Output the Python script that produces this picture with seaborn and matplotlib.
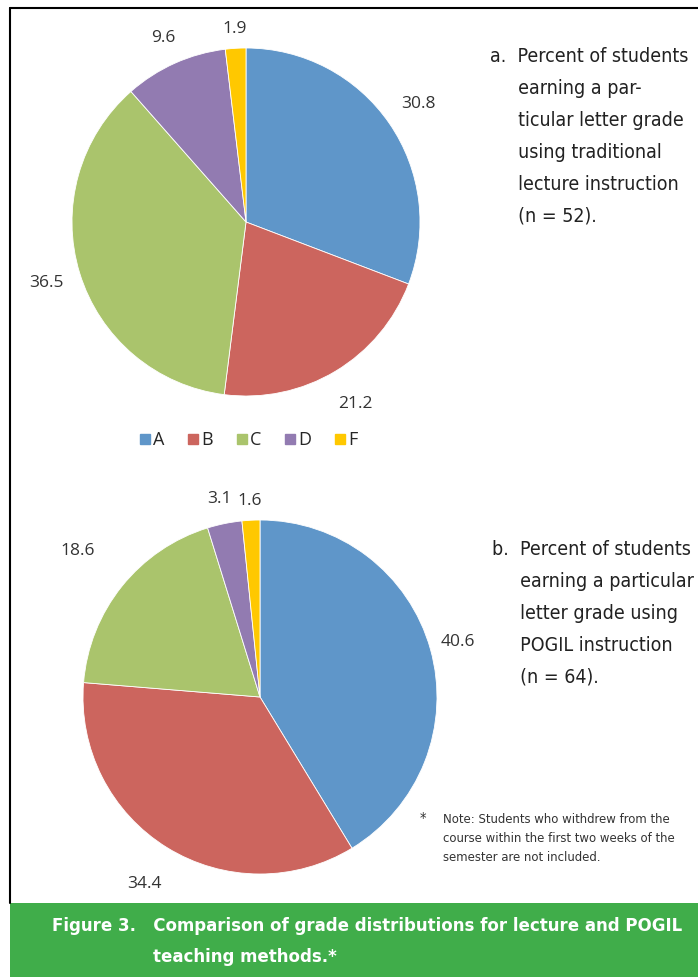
import numpy as np
import pandas as pd
import matplotlib
matplotlib.use("Agg")
import matplotlib.pyplot as plt
import seaborn as sns
from matplotlib.patches import Rectangle
from matplotlib.lines import Line2D

# Dados
grades = ["A", "B", "C", "D", "F"]
lecture_pct = [30.8, 21.2, 36.5, 9.6, 1.9]
pogil_pct = [40.6, 34.4, 18.6, 3.1, 1.6]
grade_colors = ["#5F96C9", "#CC655E", "#AAC46C", "#927BB1", "#FFC800"]

lecture_text = "a.  Percent of students\n     earning a par-\n     ticular letter grade\n     using traditional\n     lecture instruction\n     (n = 52)."
pogil_text = "b.  Percent of students\n     earning a particular\n     letter grade using\n     POGIL instruction\n     (n = 64)."
note_text = "Note: Students who withdrew from the\ncourse within the first two weeks of the\nsemester are not included."
caption_1 = "Figure 3.   Comparison of grade distributions for lecture and POGIL"
caption_2 = "teaching methods.*"

# distancia dos rotulos (estilo, tipo "best fit" do Excel)
lecture_label_dist = [1.2, 1.22, 1.2, 1.16, 1.11]
pogil_label_dist = [1.16, 1.24, 1.32, 1.14, 1.11]

df = pd.DataFrame({"grade": grades, "lecture": lecture_pct, "pogil": pogil_pct})

sns.set_theme(style="white")
plt.rcParams["font.family"] = ["Open Sans", "DejaVu Sans"]
palette = sns.color_palette(grade_colors)

W, H = 698, 977
fig = plt.figure(figsize=(W / 100, H / 100), dpi=100)
fig.patch.set_facecolor("white")


def px_axes(cx, cy, r):
    return fig.add_axes([(cx - r) / W, 1 - (cy + r) / H, 2 * r / W, 2 * r / H])


def draw_pie(ax, values, dists):
    wedges, texts = ax.pie(values, colors=palette, startangle=90, counterclock=False,
                           labels=[f"{v:.1f}" for v in values], labeldistance=1.0,
                           wedgeprops=dict(linewidth=0.6, edgecolor="white"),
                           textprops=dict(fontsize=12.5, color="#333333"))
    ax.set_xlim(-1, 1)
    ax.set_ylim(-1, 1)
    ax.set_aspect("equal")
    for t, d in zip(texts, dists):
        x, y = t.get_position()
        t.set_position((x * d, y * d))
        t.set_clip_on(False)
        t.set_ha("center")
        t.set_va("center")
    return wedges


ax1 = px_axes(246, 222, 174)
wedges = draw_pie(ax1, df["lecture"], lecture_label_dist)

ax2 = px_axes(260, 697, 177)
draw_pie(ax2, df["pogil"], pogil_label_dist)

# Legenda
handles = [Line2D([], [], marker="s", linestyle="none", markersize=6.5,
                  markerfacecolor=c, markeredgecolor=c) for c in palette]
fig.legend(handles, grades, loc="center", bbox_to_anchor=(247 / W, 1 - 440 / H),
           ncol=5, frameon=False, fontsize=13, handletextpad=0.0, columnspacing=1.15,
           handlelength=0.9)

# Textos laterais
cond = dict(family="DejaVu Sans", stretch="condensed")
fig.text(490 / W, 1 - 47 / H, lecture_text, ha="left", va="top", fontsize=14,
         color="#222222", linespacing=1.86, **cond)
fig.text(492 / W, 1 - 540 / H, pogil_text, ha="left", va="top", fontsize=14,
         color="#222222", linespacing=1.86, **cond)
fig.text(420 / W, 1 - 812 / H, "*", ha="left", va="top", fontsize=10.5, color="#333333", **cond)
fig.text(443 / W, 1 - 813 / H, note_text, ha="left", va="top", fontsize=9.4,
         color="#333333", linespacing=1.58, **cond)

# Moldura
fig.add_artist(Line2D([10 / W, 1], [1 - 8 / H, 1 - 8 / H], color="black", linewidth=1.5))
fig.add_artist(Line2D([10 / W, 10 / W], [1 - 8 / H, 1 - 903 / H], color="black", linewidth=1.5))

# Faixa verde
fig.add_artist(Rectangle((10 / W, 0), 1 - 10 / W, 74 / H, transform=fig.transFigure,
                         facecolor="#40AD4A", edgecolor="none"))
fig.text(52 / W, 1 - 926 / H, caption_1, ha="left", va="center", fontsize=13.3,
         weight="bold", color="white", **cond)
fig.text(153 / W, 1 - 957 / H, caption_2, ha="left", va="center", fontsize=13.3,
         weight="bold", color="white", **cond)

fig.savefig("out.png", dpi=100)
